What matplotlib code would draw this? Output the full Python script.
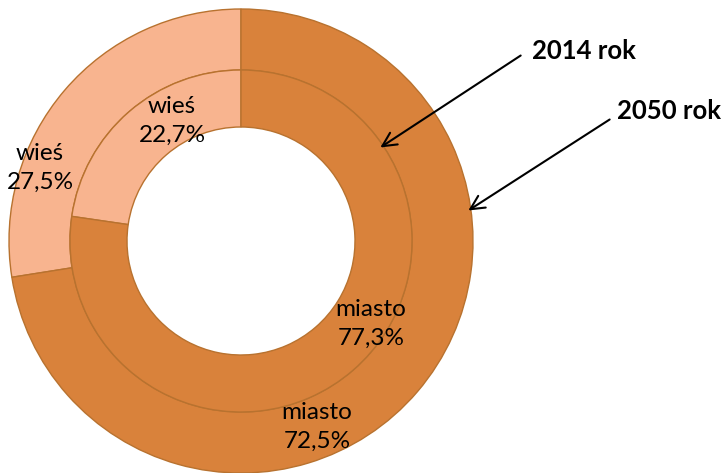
import matplotlib
matplotlib.use("Agg")
import matplotlib.pyplot as plt

# dane
kategorie = ["wieś", "miasto"]
rok_2050 = [27.5, 72.5]   # pierscien zewnetrzny
rok_2014 = [22.7, 77.3]   # pierscien wewnetrzny
kolory = ["#F8B48F", "#D9823B"]
krawedz = "#B8722F"

plt.rcParams["font.family"] = ["Lato", "DejaVu Sans"]

fig = plt.figure(figsize=(7.25, 4.73), dpi=100)
ax = fig.add_axes([0, 0, 1, 1])

H = 473
cx, cy = 241, H - 241

ax.pie(rok_2050, colors=kolory, startangle=90, counterclock=True,
       radius=232, center=(cx, cy),
       wedgeprops=dict(width=61, edgecolor=krawedz, linewidth=1.0))
ax.pie(rok_2014, colors=kolory, startangle=90, counterclock=True,
       radius=171, center=(cx, cy),
       wedgeprops=dict(width=57, edgecolor=krawedz, linewidth=1.0))

ax.set_xlim(0, 725)
ax.set_ylim(0, H)
ax.set_aspect("equal")
ax.axis("off")

def fmt(v):
    return f"{v:.1f}".replace(".", ",") + "%"

# etykiety (x, y w pikselach od gory)
ety_zew = [(40, 168), (317, 427)]
ety_wew = [(172, 121), (371, 324)]
for (x, y), k, v in zip(ety_zew, kategorie, rok_2050):
    ax.text(x, H - y, f"{k}\n{fmt(v)}", ha="center", va="center",
            fontsize=17.5, linespacing=1.45)
for (x, y), k, v in zip(ety_wew, kategorie, rok_2014):
    ax.text(x, H - y, f"{k}\n{fmt(v)}", ha="center", va="center",
            fontsize=17.5, linespacing=1.45)

# strzalki z opisami lat
ax.annotate("", xy=(378, H - 149), xytext=(523, H - 54),
            arrowprops=dict(arrowstyle="->", color="black", lw=1.5,
                            mutation_scale=25))
ax.text(532, H - 51, "2014 rok", ha="left", va="center",
        fontsize=18.5, fontweight="bold")
ax.annotate("", xy=(466, H - 212), xytext=(612, H - 118),
            arrowprops=dict(arrowstyle="->", color="black", lw=1.5,
                            mutation_scale=25))
ax.text(617, H - 111, "2050 rok", ha="left", va="center",
        fontsize=18.5, fontweight="bold")

fig.savefig("out.png", dpi=100)
